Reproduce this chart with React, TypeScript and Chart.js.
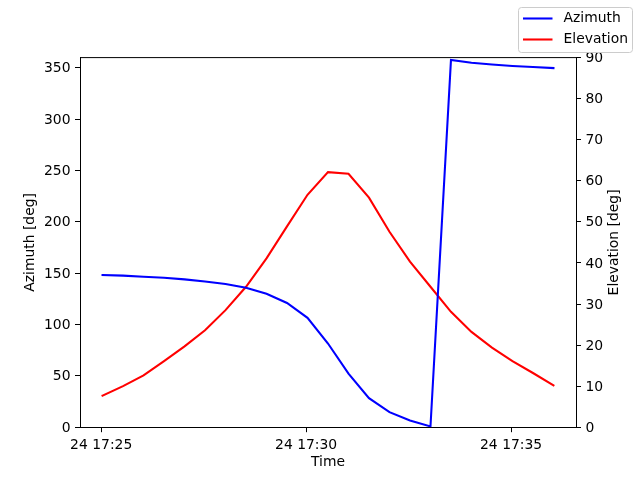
import React, { useEffect, useRef } from 'react';
import { Chart, registerables } from 'chart.js';

Chart.register(...registerables);

// sample times (24th, hh:mm:ss)
const times = [
  '17:25:02', '17:25:32', '17:26:02', '17:26:32', '17:27:02', '17:27:32',
  '17:28:02', '17:28:32', '17:29:02', '17:29:32', '17:30:02', '17:30:32',
  '17:31:02', '17:31:32', '17:32:02', '17:32:32', '17:33:02', '17:33:32',
  '17:34:02', '17:34:32', '17:35:02', '17:35:32', '17:36:02',
];
const azimuth = [
  148.2, 147.6, 146.6, 145.6, 144.0, 142.0, 139.4, 135.9, 130.0, 121.0, 106.5, 81.5,
  52.2, 28.3, 14.7, 6.5, 0.7, 357.7, 355.0, 353.2, 351.8, 350.8, 349.8,
];
const elevation = [
  7.7, 10.0, 12.6, 16.1, 19.7, 23.6, 28.5, 34.2, 41.1, 48.9, 56.6, 62.1,
  61.7, 55.9, 47.6, 40.3, 34.2, 28.1, 23.2, 19.4, 16.1, 13.2, 10.2,
];
const timeTicks = ['17:25:00', '17:30:00', '17:35:00'];
const timeTickLabels = ['24 17:25', '24 17:30', '24 17:35'];
const azimuthTicks = [0, 50, 100, 150, 200, 250, 300, 350];
const elevationTicks = [0, 10, 20, 30, 40, 50, 60, 70, 80, 90];

const FONT = '"DejaVu Sans", sans-serif';
const FS = 13.9;

// seconds after 17:25:00
const toSec = (t: string) => {
  const [h, m, s] = t.split(':').map(Number);
  return (h - 17) * 3600 + (m - 25) * 60 + s;
};

const fixedTicks = (values: number[]) => (scale: any) => {
  scale.ticks = values.map((v) => ({ value: v }));
};

const framePlugin = {
  id: 'frame',
  afterDraw(chart: any) {
    const { ctx, chartArea: a } = chart;
    ctx.save();
    ctx.strokeStyle = '#000';
    ctx.lineWidth = 1;
    ctx.beginPath();
    ctx.moveTo(a.left, a.top);
    ctx.lineTo(a.right, a.top);
    ctx.stroke();

    // right axis title, reads bottom to top
    ctx.save();
    ctx.translate(614.5, (a.top + a.bottom) / 2);
    ctx.rotate(-Math.PI / 2);
    ctx.font = `${FS}px ${FONT}`;
    ctx.fillStyle = '#000';
    ctx.textAlign = 'center';
    ctx.textBaseline = 'middle';
    ctx.fillText('Elevation [deg]', 0, 0);
    ctx.restore();

    // figure legend, upper right
    ctx.beginPath();
    ctx.roundRect(518.5, 7.5, 114, 45, 3);
    ctx.fillStyle = 'rgba(255,255,255,0.8)';
    ctx.fill();
    ctx.strokeStyle = '#cccccc';
    ctx.stroke();
    chart.data.datasets.forEach((ds: any, i: number) => {
      const y = 18.5 + i * 21;
      ctx.beginPath();
      ctx.strokeStyle = ds.borderColor;
      ctx.lineWidth = 2.08;
      ctx.moveTo(523, y);
      ctx.lineTo(552.5, y);
      ctx.stroke();
      ctx.fillStyle = '#000';
      ctx.font = `${FS}px ${FONT}`;
      ctx.textAlign = 'left';
      ctx.textBaseline = 'middle';
      ctx.fillText(ds.label, 563.5, y);
    });
    ctx.restore();
  },
};

const tickStyle = { color: '#000', font: { family: FONT, size: FS }, padding: 4.5 };
const yTickStyle = { ...tickStyle, labelOffset: 1 };
const gridStyle = {
  display: true,
  drawOnChartArea: false,
  drawTicks: true,
  tickLength: 5,
  color: '#000',
  lineWidth: 1,
};
const borderStyle = { display: true, color: '#000', width: 1 };

export default function App() {
  const canvasRef = useRef<HTMLCanvasElement | null>(null);

  useEffect(() => {
    if (!canvasRef.current) return;
    const xs = times.map(toSec);
    const xTickValues = timeTicks.map(toSec);

    const chart = new Chart(canvasRef.current, {
      type: 'line',
      data: {
        datasets: [
          {
            label: 'Azimuth',
            data: xs.map((x, i) => ({ x, y: azimuth[i] })),
            borderColor: '#0000ff',
            backgroundColor: '#0000ff',
            borderWidth: 2.08,
            borderCapStyle: 'square',
            pointRadius: 0,
            tension: 0,
            yAxisID: 'yAz',
          },
          {
            label: 'Elevation',
            data: xs.map((x, i) => ({ x, y: elevation[i] })),
            borderColor: '#ff0000',
            backgroundColor: '#ff0000',
            borderWidth: 2.08,
            borderCapStyle: 'square',
            pointRadius: 0,
            tension: 0,
            yAxisID: 'yEl',
          },
        ],
      },
      options: {
        responsive: false,
        animation: false,
        layout: { padding: { top: 57.6, left: 0, right: 0, bottom: 0 } },
        plugins: { legend: { display: false }, tooltip: { enabled: false } },
        scales: {
          x: {
            type: 'linear',
            min: -31,
            max: 695,
            afterBuildTicks: fixedTicks(xTickValues),
            afterFit: (s: any) => { s.height = 52.8; },
            ticks: {
              ...tickStyle,
              maxRotation: 0,
              callback: (v: any) => timeTickLabels[xTickValues.indexOf(Number(v))] ?? '',
            },
            grid: gridStyle,
            border: borderStyle,
            title: {
              display: true,
              text: 'Time',
              color: '#000',
              font: { family: FONT, size: FS },
              padding: { top: 0, bottom: 9.5 },
            },
          },
          yAz: {
            type: 'linear',
            position: 'left',
            min: 0,
            max: 360,
            afterBuildTicks: fixedTicks(azimuthTicks),
            afterFit: (s: any) => { s.width = 80; },
            ticks: yTickStyle,
            grid: gridStyle,
            border: borderStyle,
            title: {
              display: true,
              text: 'Azimuth [deg]',
              color: '#000',
              font: { family: FONT, size: FS },
              padding: { top: 22.5, bottom: 0 },
            },
          },
          yEl: {
            type: 'linear',
            position: 'right',
            min: 0,
            max: 90,
            afterBuildTicks: fixedTicks(elevationTicks),
            afterFit: (s: any) => { s.width = 64; },
            ticks: yTickStyle,
            grid: gridStyle,
            border: borderStyle,
          },
        },
      },
      plugins: [framePlugin],
    });

    return () => {
      chart.destroy();
    };
  }, []);

  return (
    <div style={{ position: 'absolute', left: 0, top: 0, width: 640, height: 480 }}>
      <canvas ref={canvasRef} width={640} height={480} />
    </div>
  );
}
